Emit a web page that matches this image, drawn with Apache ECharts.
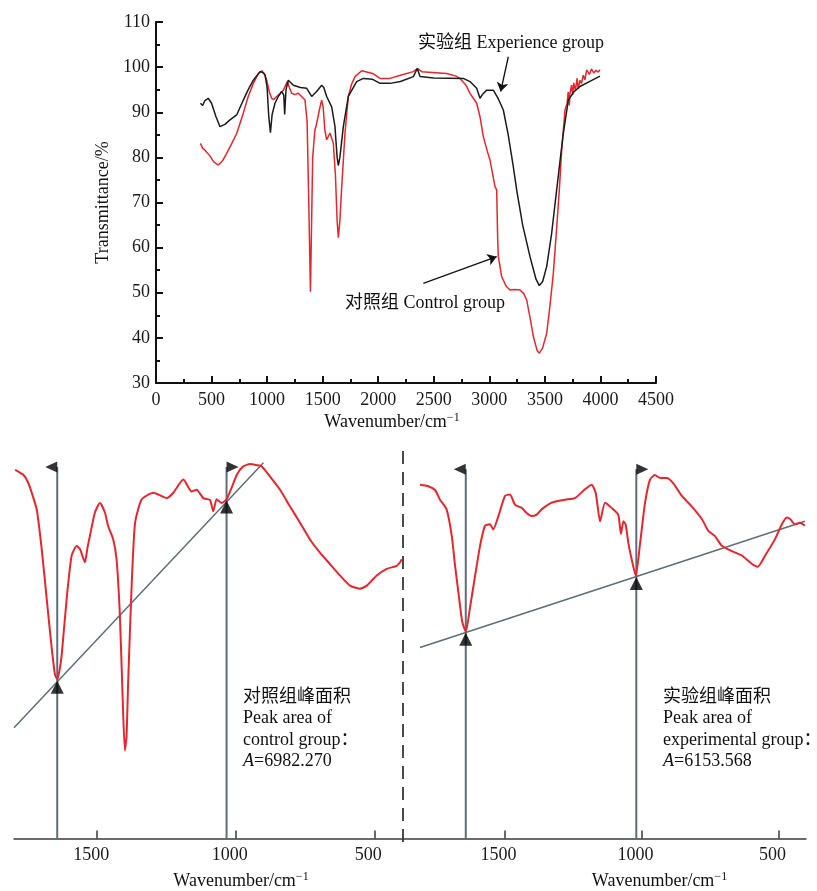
<!DOCTYPE html>
<html>
<head>
<meta charset="utf-8">
<script src="https://cdn.jsdelivr.net/npm/echarts@6.0.0/dist/echarts.min.js"></script>
<style>
  html, body { margin: 0; padding: 0; background: #fff; }
  #chart { width: 817px; height: 891px; }
</style>
</head>
<body>
<div id="chart"></div>
<script>
// full spectra (top panel)
const expWn = [400, 420, 440, 470, 500, 540, 576, 620, 666, 726, 786, 830, 876, 936, 960, 981, 1000, 1015, 1030, 1045, 1071, 1100, 1131, 1150, 1158, 1170, 1191, 1236, 1300, 1356, 1401, 1446, 1491, 1510, 1536, 1581, 1610, 1630, 1641, 1655, 1686, 1731, 1806, 1866, 1950, 2016, 2106, 2200, 2316, 2352, 2376, 2500, 2766, 2826, 2886, 2916, 2940, 2976, 3036, 3080, 3126, 3170, 3216, 3246, 3300, 3366, 3420, 3450, 3480, 3516, 3560, 3606, 3640, 3666, 3711, 3760, 3816, 3900, 3996];
const expT = [92.0, 91.5, 92.6, 93.1, 92.0, 89.0, 86.8, 87.3, 88.3, 89.4, 92.7, 95.0, 97.1, 99.0, 98.8, 98.3, 95.5, 89.0, 85.5, 89.5, 92.0, 93.5, 94.6, 93.8, 89.5, 95.0, 97.1, 96.0, 95.5, 95.3, 93.5, 94.6, 96.0, 95.5, 93.5, 91.2, 87.0, 80.0, 78.2, 80.0, 86.8, 93.5, 96.8, 97.5, 97.3, 96.4, 96.4, 96.8, 97.9, 99.7, 97.9, 97.6, 97.5, 96.8, 95.3, 93.1, 94.0, 94.9, 94.9, 93.0, 90.5, 85.0, 77.9, 72.8, 65.0, 58.0, 53.0, 51.6, 52.5, 55.8, 63.0, 72.8, 80.0, 85.3, 92.7, 94.5, 95.7, 96.8, 98.0];

const ctrlWn = [400, 420, 441, 480, 520, 561, 600, 636, 680, 726, 786, 830, 876, 920, 951, 975, 996, 1020, 1041, 1060, 1086, 1120, 1146, 1160, 1182, 1200, 1221, 1250, 1281, 1310, 1341, 1360, 1375, 1390, 1400, 1410, 1430, 1446, 1470, 1491, 1505, 1520, 1536, 1566, 1596, 1615, 1630, 1641, 1655, 1670, 1701, 1731, 1760, 1791, 1851, 1950, 2016, 2106, 2200, 2316, 2352, 2391, 2616, 2700, 2736, 2790, 2826, 2886, 2916, 2946, 2980, 3006, 3051, 3066, 3075, 3081, 3111, 3150, 3186, 3230, 3276, 3310, 3336, 3370, 3396, 3430, 3450, 3480, 3516, 3545, 3576, 3605, 3630, 3651, 3681, 3700, 3710, 3720, 3726, 3740, 3750, 3760, 3775, 3790, 3800, 3816, 3830, 3845, 3860, 3876, 3900, 3920, 3940, 3960, 3980, 3996];
const ctrlT = [83.1, 82.0, 81.6, 80.5, 79.0, 78.3, 79.3, 80.9, 83.0, 85.3, 89.8, 93.5, 96.4, 98.5, 99.2, 98.6, 97.1, 94.5, 93.1, 92.8, 93.5, 94.2, 94.9, 95.2, 96.8, 95.5, 94.2, 93.9, 94.2, 93.5, 92.7, 88.0, 70.0, 50.2, 65.0, 80.0, 86.0, 87.5, 90.5, 92.7, 91.0, 86.0, 83.9, 85.4, 83.1, 76.0, 66.0, 62.2, 66.0, 72.8, 85.4, 93.5, 96.2, 97.9, 99.2, 98.6, 97.5, 97.5, 98.2, 99.0, 99.7, 99.0, 98.6, 98.0, 97.5, 96.0, 94.2, 92.0, 89.0, 84.6, 81.5, 79.4, 73.5, 72.8, 62.0, 58.0, 53.6, 51.5, 50.6, 50.7, 50.6, 49.8, 48.4, 44.0, 40.3, 37.2, 36.6, 37.8, 41.0, 47.0, 54.3, 64.0, 72.8, 81.6, 90.5, 92.0, 94.5, 91.5, 94.2, 96.0, 93.8, 96.5, 94.8, 97.5, 95.2, 97.1, 96.4, 98.2, 97.2, 99.4, 98.4, 99.6, 98.7, 99.3, 98.9, 99.4];

// zoomed 400-1800 cm-1 region, control group (bottom left)
const ctrlZoomWn = [1796, 1780, 1766, 1750, 1736, 1718, 1700, 1682, 1664, 1652, 1644, 1636, 1628, 1610, 1592, 1574, 1562, 1552, 1544, 1535, 1526, 1508, 1490, 1472, 1460, 1442, 1430, 1418, 1408, 1400, 1394, 1388, 1375, 1363, 1339, 1297, 1249, 1225, 1189, 1159, 1141, 1117, 1093, 1081, 1069, 1051, 1033, 1015, 996, 973, 948, 924, 906, 876, 840, 804, 768, 732, 696, 660, 624, 588, 552, 527, 491, 455, 419, 407, 401];
const ctrlZoomT = [97.5, 97.1, 96.7, 95.5, 93.7, 90.9, 84.3, 76.0, 67.8, 63.3, 62.6, 64.0, 66.6, 76.0, 83.2, 84.8, 84.3, 83.0, 82.1, 84.5, 86.5, 90.4, 92.0, 90.4, 88.1, 85.9, 82.6, 73.3, 59.5, 50.7, 53.0, 62.2, 78.8, 88.7, 92.6, 93.7, 92.8, 93.7, 95.9, 93.9, 94.2, 92.8, 92.5, 90.6, 92.6, 92.0, 92.6, 94.5, 96.7, 98.1, 98.5, 98.3, 98.1, 96.4, 94.2, 91.4, 88.7, 85.9, 83.7, 81.8, 79.9, 78.2, 77.7, 78.2, 79.9, 81.0, 81.5, 82.1, 82.6];

// zoomed region, experimental group (bottom right)
const expZoomWn = [1808, 1778, 1753, 1735, 1711, 1692, 1680, 1668, 1654, 1641, 1626, 1607, 1589, 1571, 1553, 1541, 1522, 1498, 1480, 1461, 1437, 1419, 1401, 1382, 1364, 1328, 1279, 1243, 1206, 1182, 1167, 1151, 1133, 1109, 1085, 1075, 1066, 1058, 1048, 1036, 1021, 1005, 987, 969, 951, 932, 908, 884, 853, 817, 780, 756, 732, 707, 671, 634, 598, 576, 549, 513, 488, 470, 458, 440, 422, 404];
const expZoomT = [97.5, 97.3, 96.8, 95.5, 94.2, 90.6, 86.6, 83.1, 79.1, 77.8, 80.9, 85.3, 89.3, 92.0, 92.2, 91.5, 93.3, 96.0, 96.2, 94.8, 94.4, 93.7, 93.3, 93.5, 94.2, 95.1, 95.5, 95.7, 96.9, 97.5, 96.4, 92.6, 95.1, 94.4, 93.5, 90.9, 92.6, 92.2, 89.7, 87.5, 85.3, 89.7, 95.1, 98.2, 98.8, 98.4, 98.4, 97.7, 96.0, 94.6, 92.9, 91.3, 90.6, 89.3, 88.6, 88.0, 86.9, 86.5, 88.0, 90.2, 92.2, 93.1, 92.9, 92.2, 92.4, 92.0];

// integration limits and baselines
const ctrlLimWn = [1644, 1033];
const ctrlLimT = [62.4, 92.5];
const ctrlBaseWn = [1800, 900];
const ctrlBaseT = [54.5, 98.7];
const expLimWn = [1641, 1019];
const expLimT = [77.7, 85.2];
const expBaseWn = [1808, 404];
const expBaseT = [75.65, 92.6];

const topXTicks = 500;
const zoomTicks = [500, 1000, 1500];

const pairs = (xs, ys) => xs.map((x, i) => [x, ys[i]]);
const plain = v => String(v);

const serif = '"Liberation Serif", "Noto Sans CJK SC", serif';
const RED = '#e4262e';
const BLACK = '#1b1b1b';
const GREY = '#5d6e79';
const FS = 18;

const chart = echarts.init(document.getElementById('chart'));

const sup = { fontFamily: serif, fontSize: 12, color: '#111', verticalAlign: 'top', padding: [0, 0, 9, 0] };
const nameRich = { n: { fontFamily: serif, fontSize: FS, color: '#111' }, s: sup };

function zoomAxis(idx, max, pad) {
  return {
    gridIndex: idx, type: 'value', inverse: true, min: 400, max: max,
    axisLine: { onZero: false, lineStyle: { color: '#3a3a3a', width: 1.5 } },
    axisTick: { inside: true, length: 8, customValues: zoomTicks, lineStyle: { color: '#3a3a3a', width: 1.5 } },
    axisLabel: { customValues: zoomTicks, formatter: plain, margin: 8, padding: [0, 12, 0, 0], fontFamily: serif, fontSize: FS, color: '#1a1a1a' },
    splitLine: { show: false },
    name: '{n|Wavenumber/cm}{s|−1}', nameLocation: 'middle', nameGap: 32,
    nameTextStyle: { rich: nameRich, padding: pad }
  };
}

// vertical limit line + flag on top + triangle at baseline
function limitSeries(xi, wn, t, ymin, ytop, dir) {
  const flag = dir < 0 ? 'path://M12,0L0,6L12,12Z' : 'path://M0,0L12,6L0,12Z';
  return [
    {
      type: 'line', xAxisIndex: xi, yAxisIndex: xi, data: [[wn, ymin], [wn, ytop]],
      symbol: 'none', lineStyle: { color: GREY, width: 2 }, silent: true, z: 3
    },
    {
      type: 'scatter', xAxisIndex: xi, yAxisIndex: xi, data: [[wn, ytop]],
      symbol: flag, symbolSize: [12, 11], symbolOffset: [dir * 6, 0],
      itemStyle: { color: '#000' }, silent: true, z: 5
    },
    {
      type: 'scatter', xAxisIndex: xi, yAxisIndex: xi, data: [[wn, t]],
      symbol: 'triangle', symbolSize: [13, 13], symbolOffset: [0, 7],
      itemStyle: { color: '#000' }, silent: true, z: 5
    }
  ];
}

const txt = (x, y, text) => ({
  type: 'text', x: x, y: y,
  style: {
    text: text, font: FS + 'px ' + serif, fill: '#111', verticalAlign: 'middle',
    rich: { i: { fontStyle: 'italic', fontFamily: serif, fontSize: FS } }
  }
});

const option = {
  backgroundColor: '#fff',
  animation: false,
  grid: [
    { left: 156, right: 161, top: 22, bottom: 508 },
    { left: 14, right: 415, top: 455, bottom: 49 },
    { left: 403, right: 11, top: 455, bottom: 49 }
  ],
  xAxis: [
    {
      gridIndex: 0, type: 'value', min: 0, max: 4500, interval: topXTicks,
      axisLine: { onZero: false, lineStyle: { color: '#111', width: 2 } },
      axisTick: { inside: true, length: 7, lineStyle: { color: '#111', width: 2 } },
      minorTick: { show: true, splitNumber: 2, length: 4, lineStyle: { color: '#111', width: 2 } },
      axisLabel: { formatter: plain, margin: 8, fontFamily: serif, fontSize: FS, color: '#1a1a1a' },
      splitLine: { show: false },
      name: '{n|Wavenumber/cm}{s|−1}', nameLocation: 'middle', nameGap: 29,
      nameTextStyle: { rich: nameRich, padding: [0, 28, 0, 0] }
    },
    zoomAxis(1, 1800, [0, 0, 0, 66]),
    zoomAxis(2, 1870, [0, 0, 0, 110])
  ],
  yAxis: [
    {
      gridIndex: 0, type: 'value', min: 30, max: 110, interval: 10,
      axisLine: { show: true, lineStyle: { color: '#111', width: 2 } },
      axisTick: { inside: true, length: 7, lineStyle: { color: '#111', width: 2 } },
      minorTick: { show: true, splitNumber: 2, length: 4, lineStyle: { color: '#111', width: 2 } },
      axisLabel: { formatter: plain, margin: 6, fontFamily: serif, fontSize: FS, color: '#1a1a1a' },
      splitLine: { show: false },
      name: 'Transmittance/%', nameLocation: 'middle', nameGap: 42,
      nameTextStyle: { fontFamily: serif, fontSize: FS, color: '#111' }
    },
    { gridIndex: 1, type: 'value', min: 36, max: 100, show: false, splitLine: { show: false } },
    { gridIndex: 2, type: 'value', min: 50, max: 101.5, show: false, splitLine: { show: false } }
  ],
  series: [
    {
      name: '实验组 Experience group', type: 'line', xAxisIndex: 0, yAxisIndex: 0,
      data: pairs(expWn, expT), symbol: 'none', lineStyle: { color: BLACK, width: 1.5 }, z: 3,
      markLine: {
        silent: true, symbol: ['none', 'arrow'], symbolSize: 9, label: { show: false },
        lineStyle: { color: '#111', width: 1.3, type: 'solid' },
        data: [[{ coord: [3171, 102.3] }, { coord: [3102, 94.6] }]]
      }
    },
    {
      name: '对照组 Control group', type: 'line', xAxisIndex: 0, yAxisIndex: 0,
      data: pairs(ctrlWn, ctrlT), symbol: 'none', lineStyle: { color: RED, width: 1.5 }, z: 2,
      markLine: {
        silent: true, symbol: ['none', 'arrow'], symbolSize: 9, label: { show: false },
        lineStyle: { color: '#111', width: 1.3, type: 'solid' },
        data: [[{ coord: [2406, 52.1] }, { coord: [3066, 58.0] }]]
      }
    },
    {
      type: 'line', xAxisIndex: 1, yAxisIndex: 1, data: pairs(ctrlZoomWn, ctrlZoomT),
      symbol: 'none', smooth: 0.2, lineStyle: { color: RED, width: 2 }, z: 4
    },
    {
      type: 'line', xAxisIndex: 1, yAxisIndex: 1, data: pairs(ctrlBaseWn, ctrlBaseT),
      symbol: 'none', lineStyle: { color: GREY, width: 1.5 }, silent: true, z: 3
    },
    ...limitSeries(1, ctrlLimWn[0], ctrlLimT[0], 36, 98.0, -1),
    ...limitSeries(1, ctrlLimWn[1], ctrlLimT[1], 36, 98.0, 1),
    {
      type: 'line', xAxisIndex: 2, yAxisIndex: 2, data: pairs(expZoomWn, expZoomT),
      symbol: 'none', smooth: 0.2, lineStyle: { color: RED, width: 2 }, z: 4
    },
    {
      type: 'line', xAxisIndex: 2, yAxisIndex: 2, data: pairs(expBaseWn, expBaseT),
      symbol: 'none', lineStyle: { color: GREY, width: 1.5 }, silent: true, z: 3
    },
    ...limitSeries(2, expLimWn[0], expLimT[0], 50, 99.6, -1),
    ...limitSeries(2, expLimWn[1], expLimT[1], 50, 99.6, 1)
  ],
  graphic: [
    { type: 'line', shape: { x1: 403, y1: 451, x2: 403, y2: 842 }, style: { stroke: '#4a4a4a', lineWidth: 2, lineDash: [13, 8] } },
    txt(418, 43, '实验组 Experience group'),
    txt(345, 303, '对照组 Control group'),
    txt(243, 697, '对照组峰面积'),
    txt(243, 718, 'Peak area of'),
    txt(243, 740, 'control group：'),
    txt(243, 761, '{i|A}=6982.270'),
    txt(663, 697, '实验组峰面积'),
    txt(663, 718, 'Peak area of'),
    txt(663, 740, 'experimental group：'),
    txt(663, 761, '{i|A}=6153.568')
  ]
};

chart.setOption(option);
</script>
</body>
</html>
